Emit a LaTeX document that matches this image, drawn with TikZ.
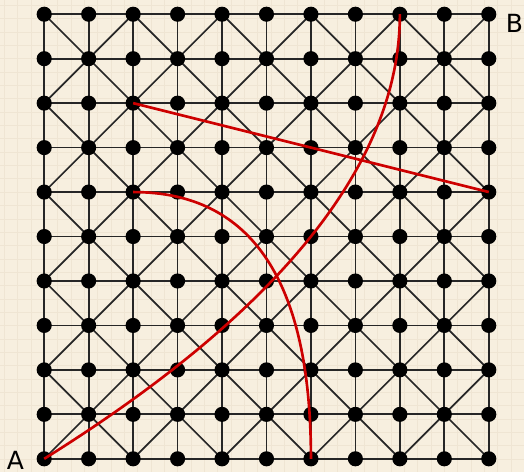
\documentclass[tikz,border=0pt]{standalone}
\usepackage{fontspec}
\setsansfont{DejaVu Sans}
\usepackage{xcolor}
\usetikzlibrary{positioning, calc}
\definecolor{parchment}{RGB}{247,239,223}
\definecolor{faintline}{RGB}{239,229,211}
\definecolor{pathred}{RGB}{205,0,0}

\begin{document}
\begin{tikzpicture}[
    dot/.style={circle, fill=black, inner sep=0pt, minimum size=0.34cm},
    edge/.style={line width=1.1pt, black!85},
    route/.style={line width=1.7pt, pathred},
    lbl/.style={font=\sffamily\fontsize{16}{19}\selectfont, inner sep=0pt}
]
% background
\fill[parchment] (-0.989,-0.292) rectangle (10.787,10.315);
\draw[faintline, line width=0.3pt, step=0.3] (-0.989,-0.292) grid (10.787,10.315);
\useasboundingbox (-0.989,-0.292) rectangle (10.787,10.315);

% grid points
\foreach \i in {0,...,10}
  \foreach \j in {0,...,10}
    \coordinate (p\i-\j) at (\i,\j);

% straight lines
\foreach \k in {0,...,10} {
  \draw[edge] (p0-\k) -- (p10-\k);
  \draw[edge] (p\k-0) -- (p\k-10);
}

% diagonals, always through the even corners
\foreach \i in {0,...,9}
  \foreach \j in {0,...,9} {
    \pgfmathtruncatemacro{\ni}{\i+1}
    \pgfmathtruncatemacro{\nj}{\j+1}
    \pgfmathtruncatemacro{\parity}{mod(\i+\j,2)}
    \ifnum\parity=0
      \draw[edge] (p\i-\j) -- (p\ni-\nj);
    \else
      \draw[edge] (p\ni-\j) -- (p\i-\nj);
    \fi
  }

% dots
\foreach \i in {0,...,10}
  \foreach \j in {0,...,10}
    \node[dot] (d\i-\j) at (p\i-\j) {};

% red routes
\draw[route] (p0-0) .. controls (5.333,3.333) and (8,6.667) .. (p8-10);
\draw[route] (p2-6) .. controls (4.667,6) and (6,4) .. (p6-0);
\draw[route] (p2-8) -- (p10-6);

% end labels
\node[lbl] (labA) at (-0.65,-0.03) {A};
\node[lbl] (labB) at (10.58,9.8) {B};
\end{tikzpicture}
\end{document}
